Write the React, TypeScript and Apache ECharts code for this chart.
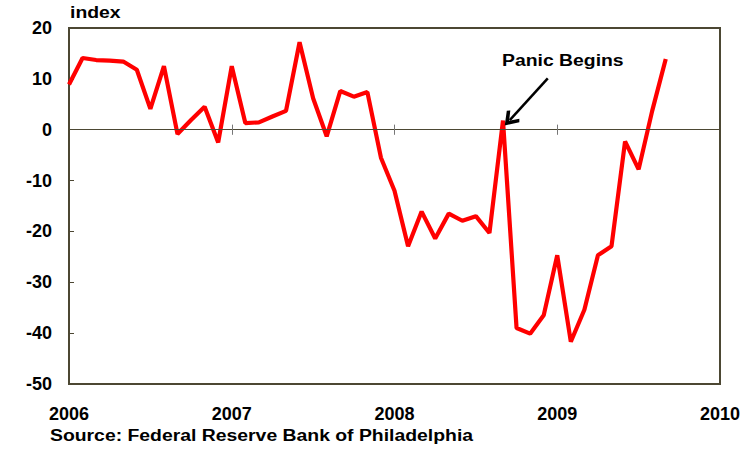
import React, { useEffect, useRef } from "react";
import * as echarts from "echarts";

// Philadelphia Fed business outlook index, monthly from Jan 2006
const years = ["2006", "2007", "2008", "2009", "2010"];
const index2006 = [8.9, 14.1, 13.7, 13.6, 13.4, 11.8, 4.1, 12.5, -0.85, 1.9, 4.5, -2.5];
const index2007 = [12.5, 1.3, 1.45, 2.6, 3.7, 17.2, 6.2, -1.3, 7.6, 6.5, 7.4, -5.5];
const index2008 = [-12.0, -22.9, -16.1, -21.4, -16.5, -17.9, -17.0, -20.3, 1.8, -39.0, -40.1, -36.5];
const index2009 = [-24.7, -41.7, -35.4, -24.7, -22.9, -2.3, -7.8, 3.7, 13.9];

const yMin = -50;
const yMax = 20;
const yStep = 10;

// annotation arrow, in (month, index) units
const arrowFrom = [35.3, 10.1];
const arrowTo = [32.5, 1.9];

const AXIS_COLOR = "#4c4733";
const FONT = "'Liberation Sans', Arial, sans-serif";

export default function App() {
  const ref = useRef<HTMLDivElement>(null);

  useEffect(() => {
    document.body.style.margin = "0";
    const chart = echarts.init(ref.current!, null, { renderer: "svg" });

    const monthly = [...index2006, ...index2007, ...index2008, ...index2009];
    const points = monthly.map((v, i) => [i, v]);
    const xMax = (years.length - 1) * 12;

    const yearTicks = years.slice(1, -1).map((_, k) => [
      { coord: [(k + 1) * 12, -1], symbol: "none", lineStyle: { color: "#777", width: 1, type: "solid" } },
      { coord: [(k + 1) * 12, 1], symbol: "none" },
    ]);

    chart.setOption({
      animation: false,
      grid: {
        left: 69,
        right: 31,
        top: 28,
        bottom: 66,
        show: true,
        borderColor: AXIS_COLOR,
        borderWidth: 2,
        backgroundColor: "#fff",
      },
      xAxis: {
        type: "value",
        min: 0,
        max: xMax,
        interval: 12,
        axisLine: { onZero: false, show: true, lineStyle: { color: AXIS_COLOR, width: 2 } },
        axisTick: { show: false },
        splitLine: { show: false },
        axisLabel: {
          margin: 21,
          fontSize: 18,
          fontWeight: "bold",
          fontFamily: FONT,
          color: "#000",
          formatter: (v: number) => years[Math.round(v / 12)] ?? "",
        },
      },
      yAxis: {
        type: "value",
        min: yMin,
        max: yMax,
        interval: yStep,
        axisLine: { show: true, lineStyle: { color: AXIS_COLOR, width: 2 } },
        axisTick: { show: true, inside: true, length: 5, lineStyle: { color: AXIS_COLOR, width: 1 } },
        splitLine: { show: false },
        axisLabel: {
          margin: 17,
          fontSize: 18,
          fontWeight: "bold",
          fontFamily: FONT,
          color: "#000",
        },
      },
      series: [
        {
          // zero line, year ticks and the annotation arrow
          type: "line",
          data: [],
          z: 1,
          silent: true,
          markLine: {
            silent: true,
            animation: false,
            label: { show: false },
            emphasis: { disabled: true },
            symbol: "none",
            data: [
              [
                { coord: [0, 0], symbol: "none", lineStyle: { color: AXIS_COLOR, width: 1, type: "solid" } },
                { coord: [xMax, 0], symbol: "none" },
              ],
              ...yearTicks,
            ],
          },
        },
        {
          type: "line",
          data: points,
          z: 3,
          symbol: "none",
          silent: true,
          lineStyle: { color: "#ff0000", width: 4.2 },
          markLine: {
            silent: true,
            animation: false,
            label: { show: false },
            emphasis: { disabled: true },
            data: [
              [
                {
                  coord: arrowFrom,
                  symbol: "none",
                  lineStyle: { color: "#000", width: 2.5, type: "solid" },
                },
                {
                  coord: arrowTo,
                  symbol: "path://M5,0 L10,7.6 L8.6,9.2 L5,4 L1.4,9.2 L0,7.6 Z",
                  symbolSize: [17, 15],
                },
              ],
            ],
          },
        },
      ],
      graphic: [
        {
          type: "text",
          left: 70,
          top: 4,
          style: { text: "index", font: `bold 17px ${FONT}`, fill: "#000" },
          scaleX: 1.14,
        },
        {
          type: "text",
          x: 502,
          y: 52,
          scaleX: 1.14,
          style: { text: "Panic Begins", font: `bold 17px ${FONT}`, fill: "#000" },
        },
        {
          type: "text",
          x: 50,
          y: 427,
          scaleX: 1.14,
          style: { text: "Source: Federal Reserve Bank of Philadelphia", font: `bold 17px ${FONT}`, fill: "#000" },
        },
      ],
    });

    return () => chart.dispose();
  }, []);

  return <div ref={ref} style={{ width: 751, height: 450 }} />;
}
